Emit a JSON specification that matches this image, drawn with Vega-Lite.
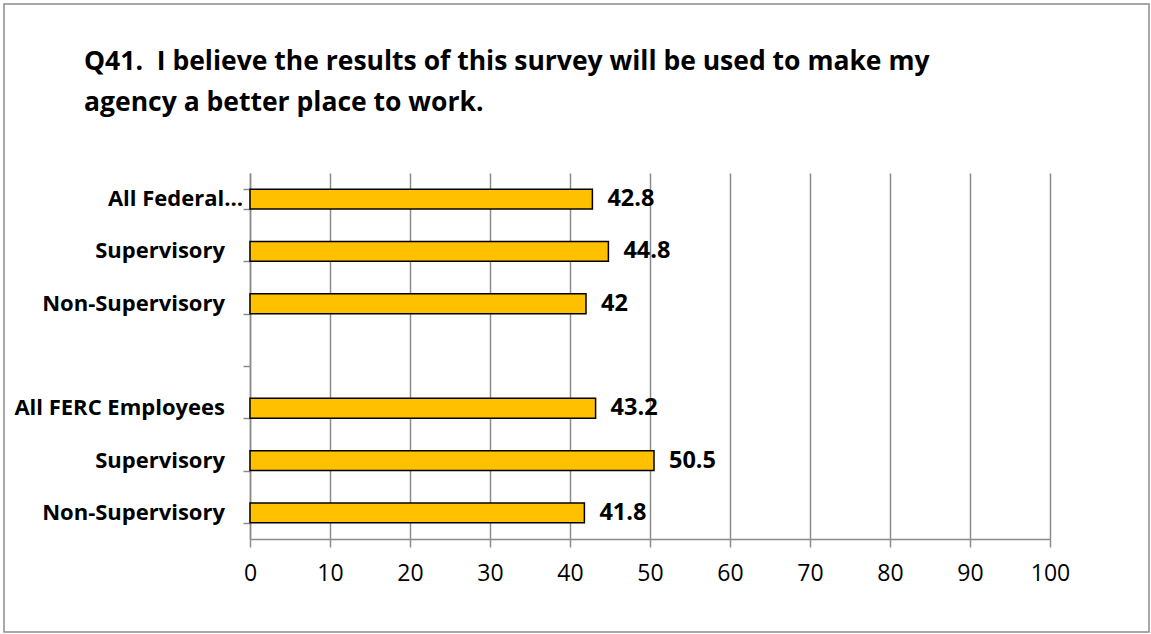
{
  "$schema": "https://vega.github.io/schema/vega-lite/v6.json",
  "width": 1145,
  "height": 628,
  "autosize": {"type": "none"},
  "padding": {"left": 4, "top": 4, "right": 2, "bottom": 2},
  "background": "white",
  "title": {
    "text": ["Q41. \u00a0I believe the results of this survey will be used to make my", "agency a better place to work."],
    "anchor": "start",
    "frame": "group",
    "orient": "top",
    "offset": -133,
    "dx": 80,
    "font": "Open Sans",
    "fontSize": 26.5,
    "fontWeight": "bold",
    "color": "black",
    "lineHeight": 41,
    "baseline": "alphabetic"
  },
  "config": {
    "view": {"stroke": "#8c8c8c", "strokeWidth": 1.5},
    "font": "Open Sans"
  },
  "resolve": {"axis": {"x": "independent"}},
  "data": {
    "values": [
      {"row": "fed_all", "label": "All Federal…", "value": 42.8},
      {"row": "fed_sup", "label": "Supervisory", "value": 44.8},
      {"row": "fed_non", "label": "Non-Supervisory", "value": 42},
      {"row": "gap", "label": "", "value": null},
      {"row": "ferc_all", "label": "All FERC Employees", "value": 43.2},
      {"row": "ferc_sup", "label": "Supervisory", "value": 50.5},
      {"row": "ferc_non", "label": "Non-Supervisory", "value": 41.8}
    ]
  },
  "encoding": {
    "y": {
      "field": "row",
      "type": "nominal",
      "sort": null,
      "scale": {
        "domain": ["fed_all", "fed_sup", "fed_non", "gap", "ferc_all", "ferc_sup", "ferc_non"],
        "range": [169, 535],
        "paddingInner": 0.62,
        "paddingOuter": 0.31
      },
      "axis": {
        "offset": -246,
        "labels": false,
        "title": null,
        "tickBand": "extent",
        "tickSize": 7,
        "tickColor": "#8c8c8c",
        "tickWidth": 1.5,
        "domainColor": "#8c8c8c",
        "domainWidth": 1.5,
        "grid": false
      }
    }
  },
  "layer": [
    {
      "mark": {"type": "bar", "fill": "#FFC000", "stroke": "black", "strokeWidth": 1.5},
      "encoding": {
        "x": {
          "field": "value",
          "type": "quantitative",
          "scale": {"domain": [0, 100], "range": [246, 1046], "nice": false, "zero": true},
          "axis": {
            "orient": "bottom",
            "offset": -93,
            "values": [0, 10, 20, 30, 40, 50, 60, 70, 80, 90, 100],
            "title": null,
            "grid": false,
            "tickSize": 8,
            "tickColor": "#8c8c8c",
            "tickWidth": 1.5,
            "domainColor": "#8c8c8c",
            "domainWidth": 1.5,
            "labelFont": "Open Sans",
            "labelFontSize": 23,
            "labelColor": "black",
            "labelPadding": 15,
            "labelFlush": false,
            "labelOverlap": false
          }
        }
      }
    },
    {
      "mark": {"type": "text", "align": "left", "baseline": "middle", "dx": 15, "font": "Open Sans", "fontSize": 23.5, "fontWeight": "bold", "color": "black"},
      "encoding": {
        "x": {
          "field": "value",
          "type": "quantitative",
          "axis": {
            "orient": "top",
            "values": [0, 10, 20, 30, 40, 50, 60, 70, 80, 90, 100],
            "title": null,
            "grid": true,
            "gridColor": "#8c8c8c",
            "gridWidth": 1.5,
            "labels": false,
            "ticks": false,
            "domain": false
          }
        },
        "text": {"field": "value", "type": "quantitative"}
      }
    },
    {
      "transform": [{"filter": "datum.row == 'fed_all'"}],
      "mark": {"type": "text", "align": "right", "baseline": "middle", "dx": -7, "font": "Open Sans", "fontSize": 22, "fontWeight": "bold", "color": "black"},
      "encoding": {
        "x": {"datum": 0, "type": "quantitative", "axis": null},
        "text": {"field": "label", "type": "nominal"}
      }
    },
    {
      "transform": [{"filter": "datum.row != 'fed_all' && datum.label != ''"}],
      "mark": {"type": "text", "align": "right", "baseline": "middle", "dx": -25, "font": "Open Sans", "fontSize": 22, "fontWeight": "bold", "color": "black"},
      "encoding": {
        "x": {"datum": 0, "type": "quantitative", "axis": null},
        "text": {"field": "label", "type": "nominal"}
      }
    }
  ]
}
